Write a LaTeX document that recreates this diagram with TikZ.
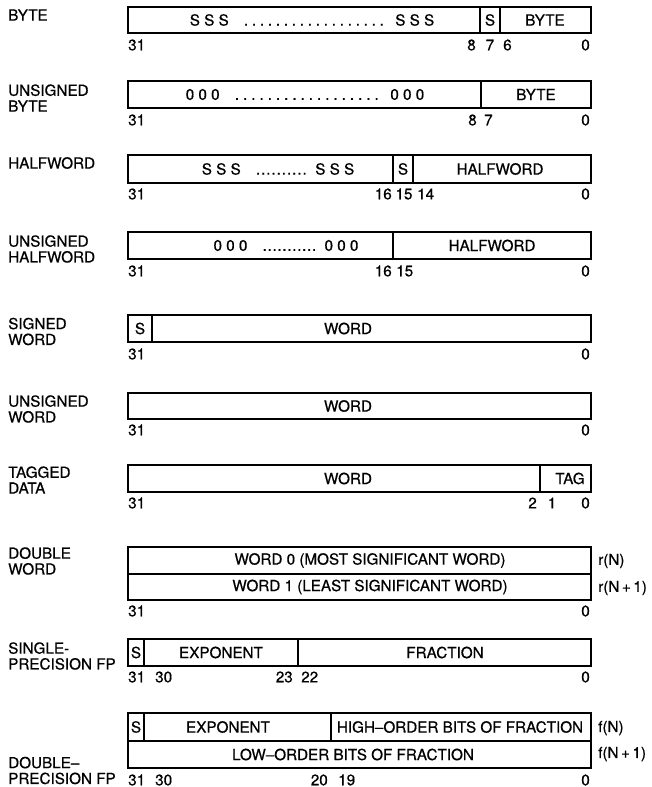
\documentclass[tikz,border=0pt]{standalone}
\usepackage{fontspec}
\setmainfont{TeX Gyre Heros}[FakeBold=0.6]
\frenchspacing
\newcommand{\fillerdots}[2]{\foreach \i in {1,...,#1}{.\kern#2}}

\begin{document}
\begin{tikzpicture}[
  x=0.03cm, y=-0.03cm,
  field/.style={draw, line width=1.5pt},
  txt/.style={inner sep=0pt, font=\fontsize{13}{13.5}\selectfont},
  lbl/.style={txt, anchor=west, align=left}
]
  \useasboundingbox (0,0) rectangle (652,787);

  % byte
  \node[lbl] (lbyte) at (8,15) {BYTE};
  \draw[field] (128,7) rectangle (480,33);
  \draw[field] (480,7) rectangle (500,33);
  \draw[field] (500,7) rectangle (591,33);
  \node[txt] (bsss) at (312,20) {S S S\quad\fillerdots{18}{3.2pt}\enspace S S S};
  \node[txt] (bs) at (490,20) {S};
  \node[txt] (bval) at (545,20) {BYTE};
  \node[txt, anchor=west] (b31) at (128,45) {31};
  \node[txt, anchor=east] (b8) at (476,45) {8};
  \node[txt] (b7) at (490,45) {7};
  \node[txt, anchor=west] (b6) at (503,45) {6};
  \node[txt, anchor=east] (b0) at (590,45) {0};

  % unsigned byte
  \node[lbl] (lubyte) at (8,98) {UNSIGNED\\BYTE};
  \draw[field] (128,81) rectangle (481,108);
  \draw[field] (481,81) rectangle (591,108);
  \node[txt] (ub000) at (305,94.5) {0 0 0\quad\fillerdots{18}{3.4pt}\enspace 0 0 0};
  \node[txt] (ubval) at (536,94.5) {BYTE};
  \node[txt, anchor=west] (ub31) at (128,120) {31};
  \node[txt, anchor=east] (ub8) at (477,120) {8};
  \node[txt, anchor=west] (ub7) at (484,120) {7};
  \node[txt, anchor=east] (ub0) at (590,120) {0};

  % halfword
  \node[lbl] (lhalf) at (8,163) {HALFWORD};
  \draw[field] (128,155) rectangle (393,183);
  \draw[field] (393,155) rectangle (413,183);
  \draw[field] (413,155) rectangle (591,183);
  \node[txt] (hsss) at (278,169) {S S S\quad\fillerdots{10}{0.8pt}\enspace S S S};
  \node[txt] (hs) at (403,169) {S};
  \node[txt] (hval) at (500,169) {HALFWORD};
  \node[txt, anchor=west] (h31) at (128,194) {31};
  \node[txt, anchor=east] (h16) at (392,194) {16};
  \node[txt] (h15) at (404,194) {15};
  \node[txt, anchor=west] (h14) at (417,194) {14};
  \node[txt, anchor=east] (h0) at (590,194) {0};

  % unsigned halfword
  \node[lbl] (luhalf) at (8,249) {UNSIGNED\\HALFWORD};
  \draw[field] (128,232) rectangle (393,259);
  \draw[field] (393,232) rectangle (591,259);
  \node[txt] (uh000) at (286,245.5) {0 0 0\quad\fillerdots{11}{0.6pt}\enspace 0 0 0};
  \node[txt] (uhval) at (492,245.5) {HALFWORD};
  \node[txt, anchor=west] (uh31) at (128,271) {31};
  \node[txt, anchor=east] (uh16) at (392,271) {16};
  \node[txt, anchor=west] (uh15) at (396,271) {15};
  \node[txt, anchor=east] (uh0) at (590,271) {0};

  % signed word
  \node[lbl] (lsword) at (8,331.5) {SIGNED\\WORD};
  \draw[field] (128,315) rectangle (152,342);
  \draw[field] (152,315) rectangle (591,342);
  \node[txt] (sws) at (140,328.5) {S};
  \node[txt] (swval) at (348,328.5) {WORD};
  \node[txt, anchor=west] (sw31) at (128,354) {31};
  \node[txt, anchor=east] (sw0) at (590,354) {0};

  % unsigned word
  \node[lbl] (luword) at (8,409) {UNSIGNED\\WORD};
  \draw[field] (128,393) rectangle (591,419);
  \node[txt] (uwval) at (348,406) {WORD};
  \node[txt, anchor=west] (uw31) at (128,430) {31};
  \node[txt, anchor=east] (uw0) at (590,430) {0};

  % tagged data
  \node[lbl] (ltag) at (8,480) {TAGGED\\DATA};
  \draw[field] (128,465) rectangle (540,492);
  \draw[field] (540,465) rectangle (591,492);
  \node[txt] (tdval) at (348,478.5) {WORD};
  \node[txt] (tdtag) at (570,478.5) {TAG};
  \node[txt, anchor=west] (td31) at (128,503) {31};
  \node[txt, anchor=east] (td2) at (537,503) {2};
  \node[txt] (td1) at (552,503) {1};
  \node[txt, anchor=east] (td0) at (590,503) {0};

  % double word
  \node[lbl] (ldword) at (8,561) {DOUBLE\\WORD};
  \draw[field] (128,547) rectangle (591,574);
  \draw[field] (128,574) rectangle (591,600);
  \node[txt] (dw0) at (370,560.5) {WORD 0 (MOST SIGNIFICANT WORD)};
  \node[txt] (dw1) at (370,587) {WORD 1 (LEAST SIGNIFICANT WORD)};
  \node[txt, anchor=west] (rn) at (598,561) {r(N)};
  \node[txt, anchor=west] (rn1) at (598,588) {r(N\,+\,1)};
  \node[txt, anchor=west] (dw31) at (128,611) {31};
  \node[txt, anchor=east] (dwz) at (590,611) {0};

  % single-precision fp
  \node[lbl] (lsfp) at (8,656) {SINGLE-\\PRECISION FP};
  \draw[field] (128,639) rectangle (144,666);
  \draw[field] (144,639) rectangle (298,666);
  \draw[field] (298,639) rectangle (591,666);
  \node[txt] (sfs) at (136,652.5) {S};
  \node[txt] (sfexp) at (221,652.5) {EXPONENT};
  \node[txt] (sffrac) at (445,652.5) {FRACTION};
  \node[txt, anchor=west] (sf31) at (128,677) {31};
  \node[txt, anchor=west] (sf30) at (155,677) {30};
  \node[txt, anchor=east] (sf23) at (293,677) {23};
  \node[txt, anchor=west] (sf22) at (301,677) {22};
  \node[txt, anchor=east] (sf0) at (590,677) {0};

  % double-precision fp
  \node[lbl] (ldfp) at (8,770.5) {DOUBLE--\\PRECISION FP};
  \draw[field] (128,713) rectangle (144,741);
  \draw[field] (144,713) rectangle (331,741);
  \draw[field] (331,713) rectangle (591,741);
  \draw[field] (128,741) rectangle (591,768);
  \node[txt] (dfs) at (136,727) {S};
  \node[txt] (dfexp) at (228,727) {EXPONENT};
  \node[txt] (dfhi) at (460,727) {HIGH--ORDER BITS OF FRACTION};
  \node[txt] (dflo) at (353,754.5) {LOW--ORDER BITS OF FRACTION};
  \node[txt, anchor=west] (fn) at (598,728) {f(N)};
  \node[txt, anchor=west] (fn1) at (598,754) {f(N\,+\,1)};
  \node[txt, anchor=west] (df31) at (128,780) {31};
  \node[txt, anchor=west] (df30) at (155,780) {30};
  \node[txt, anchor=east] (df20) at (328,780) {20};
  \node[txt, anchor=west] (df19) at (338,780) {19};
  \node[txt, anchor=east] (df0) at (590,780) {0};
\end{tikzpicture}
\end{document}
